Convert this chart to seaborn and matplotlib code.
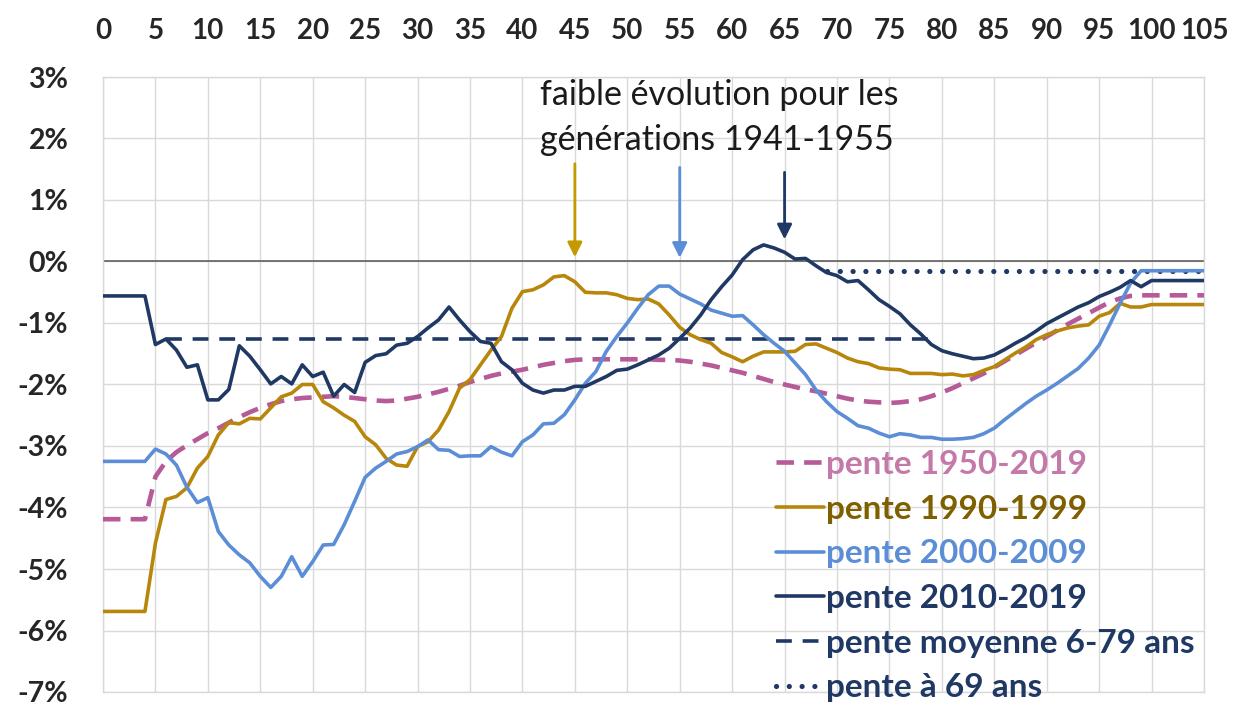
import numpy as np
import pandas as pd
import matplotlib
matplotlib.use("Agg")
import matplotlib.pyplot as plt
import seaborn as sns

# ---------------- data ----------------
ages = list(range(0, 106))

pente_2010_2019 = [
    -0.56, -0.56, -0.56, -0.56, -0.56, -1.35, -1.26, -1.44, -1.72, -1.68,
    -2.25, -2.25, -2.08, -1.37, -1.54, -1.76, -1.99, -1.87, -1.99, -1.68,
    -1.87, -1.80, -2.19, -2.00, -2.13, -1.64, -1.53, -1.50, -1.36, -1.33,
    -1.22, -1.08, -0.95, -0.74, -0.95, -1.14, -1.30, -1.33, -1.63, -1.76,
    -1.98, -2.09, -2.14, -2.09, -2.09, -2.03, -2.03, -1.95, -1.87, -1.77,
    -1.75, -1.68, -1.60, -1.52, -1.41, -1.25, -1.08, -0.87, -0.62, -0.41,
    -0.22, 0.03, 0.19, 0.27, 0.22, 0.15, 0.04, 0.05, -0.07, -0.18,
    -0.23, -0.33, -0.31, -0.46, -0.62, -0.73, -0.85, -1.03, -1.18, -1.35,
    -1.45, -1.50, -1.54, -1.58, -1.57, -1.52, -1.43, -1.33, -1.24, -1.13,
    -1.01, -0.92, -0.83, -0.74, -0.67, -0.57, -0.50, -0.42, -0.31, -0.41,
    -0.31, -0.31, -0.31, -0.31, -0.31, -0.31]

pente_2000_2009 = [
    -3.25, -3.25, -3.25, -3.25, -3.25, -3.05, -3.13, -3.31, -3.67, -3.92,
    -3.84, -4.39, -4.61, -4.77, -4.90, -5.12, -5.30, -5.12, -4.80, -5.12,
    -4.88, -4.61, -4.60, -4.28, -3.90, -3.51, -3.36, -3.25, -3.13, -3.09,
    -3.01, -2.90, -3.06, -3.07, -3.17, -3.16, -3.16, -3.01, -3.10, -3.16,
    -2.93, -2.82, -2.64, -2.63, -2.49, -2.25, -1.98, -1.79, -1.46, -1.22,
    -1.00, -0.76, -0.54, -0.40, -0.40, -0.53, -0.61, -0.69, -0.79, -0.84,
    -0.89, -0.88, -1.03, -1.19, -1.33, -1.46, -1.65, -1.84, -2.09, -2.28,
    -2.44, -2.55, -2.67, -2.71, -2.79, -2.85, -2.80, -2.82, -2.86, -2.86,
    -2.89, -2.89, -2.88, -2.86, -2.80, -2.71, -2.57, -2.44, -2.31, -2.19,
    -2.09, -1.98, -1.86, -1.74, -1.57, -1.36, -1.03, -0.68, -0.35, -0.15,
    -0.15, -0.15, -0.15, -0.15, -0.15, -0.15]

pente_1990_1999 = [
    -5.69, -5.69, -5.69, -5.69, -5.69, -4.58, -3.87, -3.82, -3.68, -3.36,
    -3.17, -2.82, -2.62, -2.64, -2.55, -2.56, -2.38, -2.20, -2.14, -2.00,
    -2.00, -2.28, -2.38, -2.50, -2.60, -2.85, -2.98, -3.20, -3.31, -3.33,
    -3.01, -2.93, -2.74, -2.44, -2.06, -1.92, -1.68, -1.44, -1.22, -0.76,
    -0.49, -0.46, -0.38, -0.25, -0.23, -0.33, -0.50, -0.51, -0.51, -0.54,
    -0.60, -0.62, -0.61, -0.69, -0.87, -1.07, -1.19, -1.27, -1.33, -1.48,
    -1.55, -1.63, -1.54, -1.47, -1.47, -1.47, -1.46, -1.35, -1.34, -1.41,
    -1.48, -1.57, -1.63, -1.66, -1.73, -1.75, -1.76, -1.82, -1.82, -1.82,
    -1.84, -1.83, -1.86, -1.84, -1.77, -1.71, -1.60, -1.49, -1.39, -1.27,
    -1.19, -1.13, -1.08, -1.05, -1.03, -0.89, -0.83, -0.68, -0.74, -0.74,
    -0.70, -0.70, -0.70, -0.70, -0.70, -0.70]

pente_1950_2019 = [
    -4.19, -4.19, -4.19, -4.19, -4.19, -3.50, -3.25, -3.10, -2.99, -2.89,
    -2.79, -2.71, -2.62, -2.53, -2.45, -2.38, -2.32, -2.27, -2.24, -2.22,
    -2.21, -2.20, -2.19, -2.20, -2.22, -2.24, -2.26, -2.27, -2.26, -2.23,
    -2.20, -2.16, -2.12, -2.07, -2.02, -1.96, -1.91, -1.86, -1.82, -1.79,
    -1.76, -1.72, -1.68, -1.65, -1.62, -1.60, -1.59, -1.59, -1.59, -1.59,
    -1.59, -1.59, -1.59, -1.60, -1.60, -1.61, -1.63, -1.66, -1.69, -1.73,
    -1.77, -1.81, -1.86, -1.91, -1.96, -2.00, -2.04, -2.08, -2.11, -2.15,
    -2.19, -2.23, -2.26, -2.28, -2.29, -2.30, -2.29, -2.27, -2.24, -2.19,
    -2.13, -2.06, -1.98, -1.90, -1.82, -1.72, -1.62, -1.52, -1.42, -1.32,
    -1.22, -1.12, -1.02, -0.93, -0.84, -0.75, -0.66, -0.60, -0.56, -0.55,
    -0.55, -0.55, -0.55, -0.55, -0.55, -0.55]

moyenne_ages = list(range(6, 80))
moyenne_val = -1.26
pente69_ages = list(range(69, 106))
pente69_val = -0.16

x_ticks = list(range(0, 106, 5))
y_ticks = list(range(-7, 4))
y_ticklabels = [f"{v}%" for v in y_ticks]

labels = ["pente 1950-2019", "pente 1990-1999", "pente 2000-2009",
          "pente 2010-2019", "pente moyenne 6-79 ans", "pente à 69 ans"]

annot_lines = ["faible évolution pour les", "générations 1941-1955"]
arrow_ages = [45, 55, 65]

# ---------------- style ----------------
sns.set_style("white")
plt.rcParams["font.family"] = ["Lato", "DejaVu Sans"]

NAVY = "#1F3864"
BLUE = "#5B8ED6"
GOLD = "#B8860B"
PINK = "#B65A98"
GRID = "#D9D9D9"

text_colors = ["#C47AA8", "#7F6000", "#5B8ED6", NAVY, NAVY, NAVY]

W, H = 1236, 706
fig = plt.figure(figsize=(W / 100, H / 100), dpi=100)
ax = fig.add_axes([103 / W, 1 - 692 / H, (1204 - 103) / W, (692 - 77) / H])

px = 0.72  # points per pixel

# grid
ax.set_xlim(0, 105)
ax.set_ylim(-7, 3)
ax.set_xticks(x_ticks)
ax.set_yticks(y_ticks)
ax.grid(True, color=GRID, lw=1.4 * px, zorder=0)
ax.set_axisbelow(True)
for s in ax.spines.values():
    s.set_color(GRID)
    s.set_linewidth(1.4 * px)
ax.axhline(0, color="#595959", lw=1.6 * px, zorder=1)

df = pd.DataFrame({"age": ages,
                   "p1950": pente_1950_2019,
                   "p1990": pente_1990_1999,
                   "p2000": pente_2000_2009,
                   "p2010": pente_2010_2019})

LW = 3.6 * px
sns.lineplot(data=df, x="age", y="p1950", ax=ax, color=PINK, lw=4.6 * px,
             linestyle=(0, (3.8, 2.2)), label=labels[0], zorder=3)
sns.lineplot(data=df, x="age", y="p1990", ax=ax, color=GOLD, lw=LW,
             label=labels[1], zorder=4)
sns.lineplot(data=df, x="age", y="p2000", ax=ax, color=BLUE, lw=LW,
             label=labels[2], zorder=4)
sns.lineplot(data=df, x="age", y="p2010", ax=ax, color=NAVY, lw=LW,
             label=labels[3], zorder=5)

df_m = pd.DataFrame({"age": moyenne_ages, "v": [moyenne_val] * len(moyenne_ages)})
sns.lineplot(data=df_m, x="age", y="v", ax=ax, color=NAVY, lw=LW,
             linestyle=(0, (4.4, 3.0)), label=labels[4], zorder=3)
df_69 = pd.DataFrame({"age": pente69_ages, "v": [pente69_val] * len(pente69_ages)})
sns.lineplot(data=df_69, x="age", y="v", ax=ax, color=NAVY, lw=5.2 * px,
             linestyle=(0, (0.01, 2.45)), label=labels[5], zorder=3)
ax.lines[-1].set_dash_capstyle("round")

# ticks
ax.xaxis.tick_top()
ax.tick_params(axis="x", length=0, pad=24, labelsize=20)
ax.tick_params(axis="y", length=0, pad=25, labelsize=20.5)
ax.set_xticklabels([str(t) for t in x_ticks], fontweight="bold")
ax.set_yticklabels(y_ticklabels, fontweight="bold")
ax.set_xlabel("")
ax.set_ylabel("")

# annotation text
ax.text(41.7, 2.55, annot_lines[0], fontsize=24.5, color="#1a1a1a", va="baseline", ha="left")
ax.text(41.7, 1.82, annot_lines[1], fontsize=24.5, color="#1a1a1a", va="baseline", ha="left")

arrow_specs = [("#C49A00", 1.59, 0.07), (BLUE, 1.53, 0.06), (NAVY, 1.45, 0.36)]
for a, (c, y0, y1) in zip(arrow_ages, arrow_specs):
    ax.annotate("", xy=(a, y1), xytext=(a, y0),
                arrowprops=dict(arrowstyle="-|>", color=c, lw=2.8 * px,
                                mutation_scale=22, shrinkA=0, shrinkB=0))

# legend
leg = ax.legend(loc="upper left", bbox_to_anchor=(776 / W, 1 - 450 / H),
                bbox_transform=fig.transFigure, frameon=False, fontsize=24,
                handlelength=1.45, handletextpad=0.05, labelspacing=0.47,
                borderpad=0, borderaxespad=0)
for t, c in zip(leg.get_texts(), text_colors):
    t.set_color(c)
    t.set_fontweight("bold")

fig.savefig("out.png", dpi=100)
